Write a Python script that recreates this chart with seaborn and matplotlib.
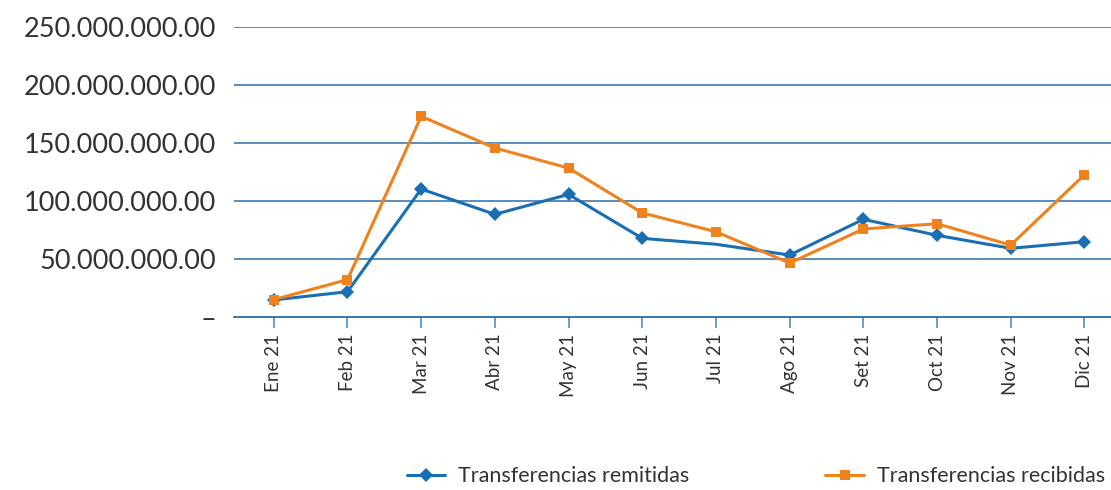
import matplotlib
matplotlib.use("Agg")
import matplotlib.pyplot as plt
import seaborn as sns
import numpy as np
import pandas as pd

months = ["Ene 21", "Feb 21", "Mar 21", "Abr 21", "May 21", "Jun 21",
          "Jul 21", "Ago 21", "Set 21", "Oct 21", "Nov 21", "Dic 21"]
remitidas = [14.7e6, 21.8e6, 110.3e6, 88.5e6, 105.7e6, 67.8e6,
             62.7e6, 53.4e6, 84.2e6, 70.4e6, 59.2e6, 64.9e6]
recibidas = [15.0e6, 32.2e6, 173.0e6, 145.7e6, 128.4e6, 89.7e6,
             73.5e6, 46.5e6, 75.9e6, 80.4e6, 62.0e6, 122.7e6]
yticks = [0, 50e6, 100e6, 150e6, 200e6, 250e6]
ytick_labels = ["–", "50.000.000.00", "100.000.000.00", "150.000.000.00",
                "200.000.000.00", "250.000.000.00"]

sns.set_theme(style="white")
plt.rcParams['font.family'] = ['Lato', 'DejaVu Sans']

BLUE = "#1a6fb3"
ORANGE = "#f0821e"
GRID = "#2a6ea8"
TEXT = "#333333"

fig = plt.figure(figsize=(11.11, 4.90), dpi=100)
ax = fig.add_axes([234/1111, 1-317/490, 1-234/1111, (317-27)/490])

x = np.arange(len(months))
df = pd.DataFrame({"x": x, "rem": remitidas, "rec": recibidas})

sns.lineplot(data=df, x="x", y="rem", ax=ax, color=BLUE, lw=2.2,
             marker="D", markersize=7, markeredgewidth=0,
             markevery=[0, 1, 2, 3, 4, 5, 7, 8, 9, 10, 11],
             label="Transferencias remitidas")
sns.lineplot(data=df, x="x", y="rec", ax=ax, color=ORANGE, lw=2.2,
             marker="s", markersize=7, markeredgewidth=0,
             label="Transferencias recibidas")

ax.set_xlim(-0.54, 11.36)
ax.set_ylim(0, 250e6)
ax.set_yticks(yticks)
ax.set_yticklabels(ytick_labels, fontsize=19.5, color=TEXT)
ax.set_xticks(x)
ax.set_xticklabels(months, rotation=90, fontsize=13.5, color=TEXT)
ax.set_xlabel("")
ax.set_ylabel("")

for y in yticks[1:]:
    ax.axhline(y, color=GRID, lw=1.1, zorder=0)

for s in ["left", "right", "top"]:
    ax.spines[s].set_visible(False)
ax.spines["bottom"].set_color(GRID)
ax.spines["bottom"].set_linewidth(1.3)
ax.tick_params(axis="x", bottom=True, length=8, width=1.2, color="#4a90c8",
               pad=4)
ax.tick_params(axis="y", left=False, length=0, pad=13)

leg = ax.legend(loc="center", bbox_to_anchor=(0.595, -0.55), ncol=2,
                frameon=False, handlelength=1.8,
                columnspacing=6.3, handletextpad=0.6,
                prop={"size": 15.5})
for t in leg.get_texts():
    t.set_color(TEXT)

fig.savefig("out.png", dpi=100)
